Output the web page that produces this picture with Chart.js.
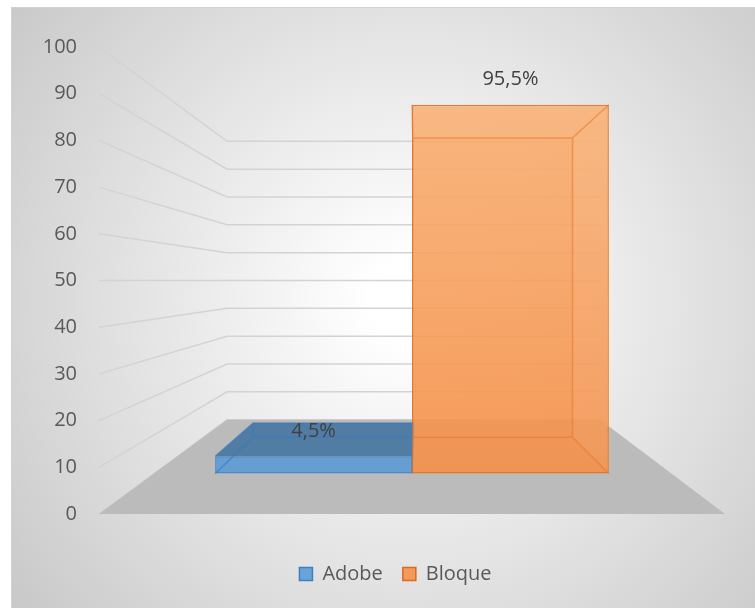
<!DOCTYPE html>
<html>
<head>
<meta charset="utf-8">
<script src="https://cdn.jsdelivr.net/npm/chart.js@4"></script>
<style>
  html, body { margin: 0; padding: 0; background: #fff; }
</style>
</head>
<body>
<canvas id="chart" width="755" height="608"></canvas>
<script>
const categories = ['']
const seriesNames = ['Adobe', 'Bloque']
const adobeValues = [4.5]
const bloqueValues = [95.5]
const yTicks = [0, 10, 20, 30, 40, 50, 60, 70, 80, 90, 100]

// depth of each plane in the 3D view (1 = front edge of the floor)
const WALL = 0.596
const BAR_FRONT = 0.827
const BAR_BACK = 0.671

const font = { family: 'Open Sans', size: 20 }
const textColor = '#595959'

// shrink a point toward the vanishing point in the middle of the plot
function toward(chart, x, y, k) {
  const a = chart.chartArea
  const vx = (a.left + a.right) / 2 + 4
  const vy = (a.top + a.bottom) / 2
  return [vx + (x - vx) * k, vy + (y - vy) * k]
}

function orangeFill(ctx) {
  const area = ctx.chart.chartArea
  if (!area) return 'rgba(247,150,80,0.9)'
  const g = ctx.chart.ctx.createLinearGradient(0, area.top, 0, area.bottom)
  g.addColorStop(0, 'rgba(250,180,120,0.9)')
  g.addColorStop(1, 'rgba(244,140,68,0.9)')
  return g
}

const backdrop = {
  id: 'backdrop',
  beforeDraw(chart) {
    const c = chart.ctx
    c.save()
    c.fillStyle = '#fff'
    c.fillRect(0, 0, chart.width, chart.height)
    const g = c.createRadialGradient(410, 300, 40, 410, 300, 540)
    g.addColorStop(0, '#ffffff')
    g.addColorStop(1, '#c4c4c4')
    c.fillStyle = g
    c.fillRect(11, 7, chart.width - 11, chart.height - 7)
    c.strokeStyle = '#d2d2d2'
    c.lineWidth = 1
    c.beginPath()
    c.moveTo(11.5, chart.height)
    c.lineTo(11.5, 7.5)
    c.lineTo(chart.width, 7.5)
    c.stroke()
    c.restore()
  },
  // legend sits centred under the plot rather than the whole canvas
  afterLayout(chart) {
    chart.legend.left += 14
    chart.legend.right += 14
  }
}

// side wall + back wall gridlines, then the floor
const walls = {
  id: 'walls',
  beforeDatasetsDraw(chart) {
    const c = chart.ctx
    const a = chart.chartArea
    const y = chart.scales.y
    c.save()
    c.strokeStyle = '#d3d3d3'
    c.lineWidth = 1.5
    yTicks.forEach(v => {
      const py = y.getPixelForValue(v)
      const [wx, wy] = toward(chart, a.left, py, WALL)
      const [rx] = toward(chart, a.right, py, WALL)
      c.beginPath()
      c.moveTo(a.left, py)
      c.lineTo(wx, wy)
      c.lineTo(rx, wy)
      c.stroke()
    })
    const y0 = y.getPixelForValue(0)
    const bl = toward(chart, a.left, y0, WALL)
    const br = toward(chart, a.right, y0, WALL)
    c.fillStyle = '#bbbbbb'
    c.beginPath()
    c.moveTo(a.left, y0)
    c.lineTo(bl[0], bl[1])
    c.lineTo(br[0], br[1])
    c.lineTo(a.right, y0)
    c.closePath()
    c.fill()
    c.restore()
  }
}

// depth faces and inner edges of the transparent boxes
const boxes = {
  id: 'boxes',
  afterDatasetsDraw(chart) {
    const c = chart.ctx
    const k = BAR_BACK / BAR_FRONT
    const vy = (chart.chartArea.top + chart.chartArea.bottom) / 2
    const edge = ['rgba(60,120,190,0.6)', 'rgba(232,118,40,0.55)']
    c.save()
    chart.getSortedVisibleDatasetMetas().forEach((meta, i) => {
      meta.data.forEach(bar => {
        const l = bar.x - bar.width / 2, r = bar.x + bar.width / 2
        const t = bar.y, b = bar.base
        const tl = toward(chart, l, t, k), tr = toward(chart, r, t, k)
        const bl = toward(chart, l, b, k), br = toward(chart, r, b, k)
        if (t > vy) {
          // top face is seen from above
          c.fillStyle = 'rgba(70,118,162,0.9)'
          c.beginPath()
          c.moveTo(l, t); c.lineTo(r, t); c.lineTo(tr[0], tr[1]); c.lineTo(tl[0], tl[1])
          c.closePath()
          c.fill()
        } else {
          c.fillStyle = 'rgba(255,255,255,0.05)'
          c.beginPath()
          c.moveTo(l, t); c.lineTo(r, t); c.lineTo(tr[0], tr[1]); c.lineTo(tl[0], tl[1])
          c.closePath()
          c.fill()
          c.beginPath()
          c.moveTo(r, t); c.lineTo(tr[0], tr[1]); c.lineTo(br[0], br[1]); c.lineTo(r, b)
          c.closePath()
          c.fill()
        }
        c.strokeStyle = edge[i]
        c.lineWidth = 1.5
        c.beginPath()
        c.moveTo(tl[0], tl[1]); c.lineTo(tr[0], tr[1]); c.lineTo(br[0], br[1]); c.lineTo(bl[0], bl[1]); c.closePath()
        c.moveTo(l, t); c.lineTo(tl[0], tl[1])
        c.moveTo(r, t); c.lineTo(tr[0], tr[1])
        c.moveTo(l, b); c.lineTo(bl[0], bl[1])
        c.moveTo(r, b); c.lineTo(br[0], br[1])
        c.stroke()
      })
    })
    c.restore()
  }
}

const valueLabels = {
  id: 'valueLabels',
  afterDatasetsDraw(chart) {
    const c = chart.ctx
    c.save()
    c.font = `${font.size}px "${font.family}"`
    c.fillStyle = '#404040'
    c.textAlign = 'center'
    c.textBaseline = 'middle'
    chart.data.datasets.forEach((ds, i) => {
      chart.getDatasetMeta(i).data.forEach((bar, j) => {
        const txt = ds.data[j].toFixed(1).replace('.', ',') + '%'
        c.fillText(txt, bar.x, bar.y - 25)
      })
    })
    c.restore()
  }
}

const legendFill = ['#6aa3da', '#f59a5a']
const legendStroke = ['#3f7fc0', '#d96a22']

new Chart(document.getElementById('chart'), {
  type: 'bar',
  data: {
    labels: categories,
    datasets: [
      { label: seriesNames[0], data: adobeValues, backgroundColor: 'rgba(91,155,213,0.9)', borderColor: '#4a88c8' },
      { label: seriesNames[1], data: bloqueValues, backgroundColor: orangeFill, borderColor: '#e4762c' }
    ].map(ds => ({ ...ds, yAxisID: 'yBars', borderWidth: 1.5, borderSkipped: false, categoryPercentage: 0.629, barPercentage: 1 }))
  },
  options: {
    responsive: false,
    animation: false,
    devicePixelRatio: 1,
    layout: { padding: { left: 38, right: 30, top: 47, bottom: 14 } },
    scales: {
      x: {
        grid: { display: false, drawTicks: false },
        border: { display: false },
        ticks: { display: false },
        afterFit: s => { s.height = 30 }
      },
      y: {
        position: 'left',
        min: 0,
        max: 100,
        afterBuildTicks: s => { s.ticks = yTicks.map(v => ({ value: v })) },
        grid: { display: false, drawTicks: false },
        border: { display: false },
        ticks: { padding: 22, color: textColor, font },
        afterFit: s => { s.width = 61 }
      },
      // bars stand on a plane set back from the axis labels
      yBars: { display: false, min: 50 - 50 / BAR_FRONT, max: 50 + 50 / BAR_FRONT }
    },
    plugins: {
      tooltip: { enabled: false },
      legend: {
        position: 'bottom',
        labels: {
          boxWidth: 13,
          boxHeight: 13,
          padding: 20,
          color: textColor,
          font,
          generateLabels: () => seriesNames.map((name, i) => ({
            text: name, fillStyle: legendFill[i], strokeStyle: legendStroke[i],
            lineWidth: 1.5, datasetIndex: i, fontColor: textColor
          }))
        }
      }
    }
  },
  plugins: [backdrop, walls, boxes, valueLabels]
})
</script>
</body>
</html>
